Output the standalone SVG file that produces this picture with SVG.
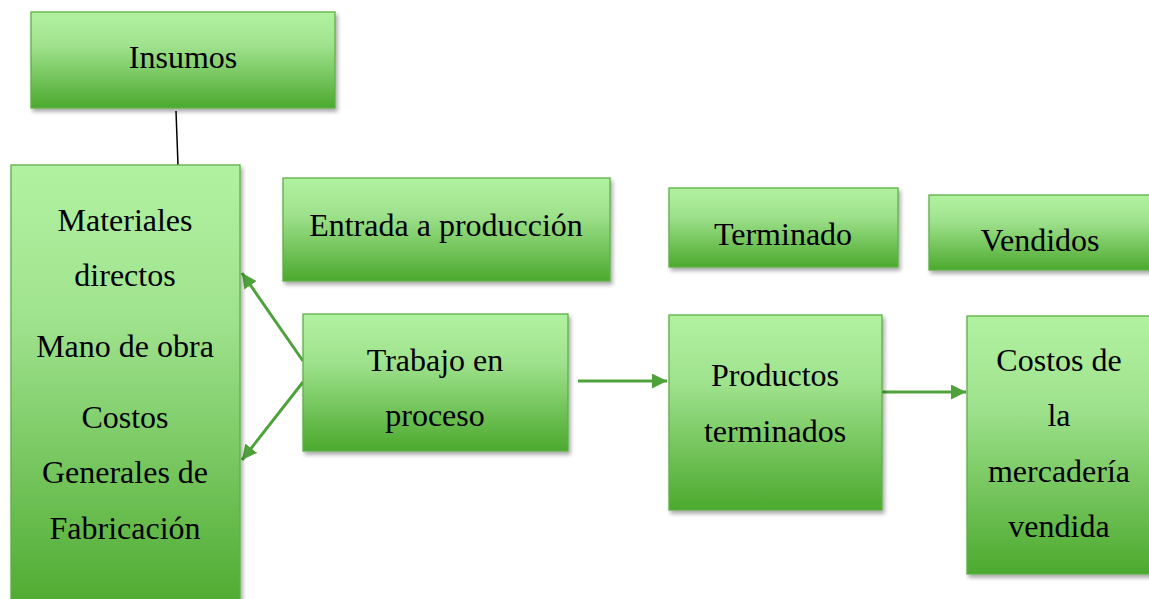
<svg xmlns="http://www.w3.org/2000/svg" width="1149" height="599" viewBox="0 0 1149 599">
<style>
.box{fill:url(#g);stroke:#5FAF45;stroke-width:1.3;filter:url(#sh)}
.t{font-family:"Liberation Serif","Times New Roman",serif;font-size:32px;fill:#000;text-anchor:middle}
.c{stroke:#4FA23A;stroke-width:3;fill:none;marker-end:url(#ah)}
</style>
<defs>
<linearGradient id="g" x1="0" y1="0" x2="0" y2="1">
<stop offset="0" stop-color="#B1F2A1"/>
<stop offset="0.35" stop-color="#9FE28D"/>
<stop offset="1" stop-color="#4CA92E"/>
</linearGradient>
<filter id="sh" x="-10%" y="-10%" width="130%" height="130%">
<feGaussianBlur in="SourceAlpha" stdDeviation="2"/>
<feOffset dx="2" dy="3" result="b"/>
<feComponentTransfer><feFuncA type="linear" slope="0.35"/></feComponentTransfer>
<feMerge><feMergeNode/><feMergeNode in="SourceGraphic"/></feMerge>
</filter>
<marker id="ah" viewBox="0 0 10 10" refX="10" refY="5" markerWidth="5" markerHeight="5" orient="auto" markerUnits="strokeWidth">
<path d="M0,0 L10,5 L0,10 z" fill="#4FA23A"/>
</marker>
</defs>
<g id="connectors">
<line x1="176" y1="111" x2="178" y2="165" stroke="#000" stroke-width="1.5"/>
<line class="c" x1="303" y1="361" x2="242" y2="273"/>
<line class="c" x1="303" y1="382" x2="242" y2="460"/>
<line class="c" x1="578" y1="381" x2="667" y2="381"/>
<line class="c" x1="882" y1="392" x2="966" y2="392"/>
</g>
<g id="insumos">
<rect class="box" x="31" y="12" width="304" height="96"/>
<text class="t" x="183" y="68">Insumos</text>
</g>
<g id="materiales">
<rect class="box" x="11" y="165" width="229" height="450"/>
<text class="t" x="125" y="231">Materiales</text>
<text class="t" x="125" y="286">directos</text>
<text class="t" x="125" y="357">Mano de obra</text>
<text class="t" x="125" y="428">Costos</text>
<text class="t" x="125" y="483">Generales de</text>
<text class="t" x="125" y="539">Fabricación</text>
</g>
<g id="entrada">
<rect class="box" x="283" y="178" width="327" height="103"/>
<text class="t" x="446" y="236">Entrada a producción</text>
</g>
<g id="trabajo">
<rect class="box" x="303" y="314" width="265" height="137"/>
<text class="t" x="435" y="371">Trabajo en</text>
<text class="t" x="435" y="426">proceso</text>
</g>
<g id="terminado">
<rect class="box" x="669" y="188" width="229" height="79"/>
<text class="t" x="783" y="245">Terminado</text>
</g>
<g id="vendidos">
<rect class="box" x="929" y="195" width="240" height="75"/>
<text class="t" x="1040" y="251">Vendidos</text>
</g>
<g id="productos">
<rect class="box" x="669" y="315" width="213" height="195"/>
<text class="t" x="775" y="386">Productos</text>
<text class="t" x="775" y="442">terminados</text>
</g>
<g id="costos">
<rect class="box" x="967" y="316" width="200" height="258"/>
<text class="t" x="1059" y="371">Costos de</text>
<text class="t" x="1059" y="426">la</text>
<text class="t" x="1059" y="482">mercadería</text>
<text class="t" x="1059" y="537">vendida</text>
</g>
</svg>
